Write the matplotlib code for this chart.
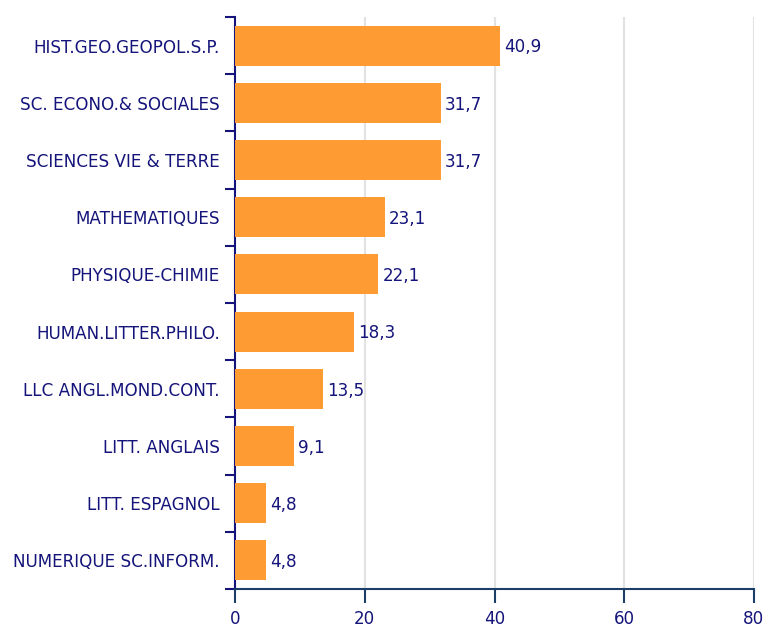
import matplotlib
matplotlib.use("Agg")
import matplotlib.pyplot as plt
import numpy as np

categories = ["HIST.GEO.GEOPOL.S.P.", "SC. ECONO.& SOCIALES", "SCIENCES VIE & TERRE",
              "MATHEMATIQUES", "PHYSIQUE-CHIMIE", "HUMAN.LITTER.PHILO.",
              "LLC ANGL.MOND.CONT.", "LITT. ANGLAIS", "LITT. ESPAGNOL",
              "NUMERIQUE SC.INFORM."]
values = [40.9, 31.7, 31.7, 23.1, 22.1, 18.3, 13.5, 9.1, 4.8, 4.8]
xticks = [0, 20, 40, 60, 80]

navy = "#14147a"
bar_color = "#FF9B33"
axis_color = "#1b3f66"
fs = 12.1

fig = plt.figure(figsize=(7.67, 6.29), dpi=100)
ax = fig.add_axes([235/767, 1-589/629, (754-235)/767, (589-17)/629])

n = len(categories)
y = np.arange(n)
ax.barh(y, values, height=0.7, color=bar_color, zorder=3)
for yi, v in zip(y, values):
    ax.text(v + 0.65, yi + 0.03, f"{v:.1f}".replace(".", ","), va="center", ha="left",
            color=navy, fontsize=fs)

ax.set_ylim(n - 0.5, -0.5)
ax.set_xlim(0, 80)
ax.set_xticks(xticks)
ax.set_xticklabels([str(t) for t in xticks])
ax.set_yticks(y)
ax.set_yticklabels(categories)
ax.set_yticks(np.arange(n + 1) - 0.5, minor=True)
ax.tick_params(axis="y", which="major", length=0, pad=11, labelsize=fs, labelcolor=navy)
ax.tick_params(axis="y", which="minor", length=7, width=1.5, color=navy, direction="out")
ax.tick_params(axis="x", length=10, width=1.5, color=axis_color, labelsize=fs,
               labelcolor=navy, pad=5)
ax.grid(axis="x", color="#e2e2e2", linewidth=1.5, zorder=0)
for s in ["top", "right"]:
    ax.spines[s].set_visible(False)
ax.spines["left"].set_color(navy)
ax.spines["left"].set_linewidth(1.5)
ax.spines["bottom"].set_color(axis_color)
ax.spines["bottom"].set_linewidth(1.5)

fig.savefig("out.png", dpi=100)
